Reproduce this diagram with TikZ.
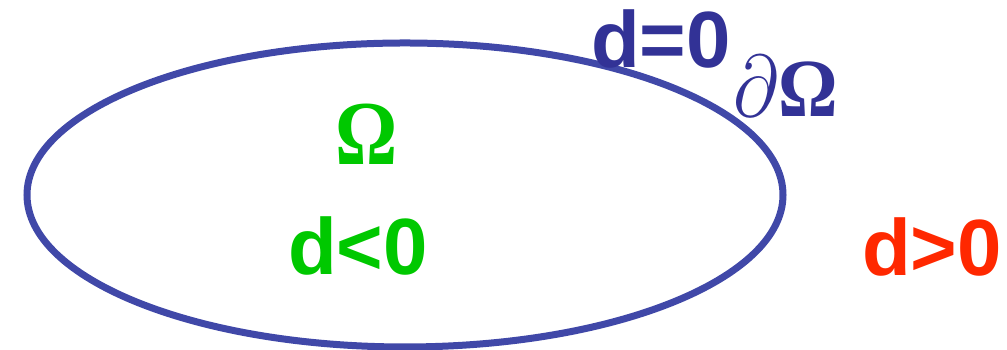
\documentclass[tikz,border=0pt]{standalone}
\usepackage{fontspec}
\setmainfont{Liberation Sans}
\newfontfamily\greekfont{Liberation Serif}
\usetikzlibrary{positioning}
\definecolor{navy}{RGB}{50,50,150}
\definecolor{rim}{RGB}{64,72,168}
\definecolor{leaf}{RGB}{0,200,0}
\definecolor{brick}{RGB}{255,40,0}
\tikzset{
  sign/.style={inner sep=0pt,anchor=base,text=#1,font=\fontsize{22.7}{26}\selectfont\bfseries},
  sign/.default=navy,
  sym/.style={inner sep=0pt,anchor=base,text=#1,font=\fontsize{23.5}{26}\selectfont},
  sym/.default=navy,
}
\begin{document}
\begin{tikzpicture}
    \useasboundingbox (0,0) rectangle (10.07,3.5);
    % domain boundary
    \draw[rim,line width=0.7mm] (4.05,1.55) ellipse (3.78 and 1.52);
    \node[sign] (zero) at (6.61,2.82) {d=0};
    \node[sym,transform shape,xscale=0.9] (bnd) at (7.86,2.33) {$\partial${\greekfont\bfseries Ω}};
    \node[sym=leaf,transform shape,xscale=0.85,font=\fontsize{26}{28}\selectfont] (dom) at (3.67,1.85) {{\greekfont\bfseries Ω}};
    \node[sign=leaf] (inside) at (3.58,0.75) {d<0};
    \node[sign=brick] (outside) at (9.32,0.74) {d>0};
  \end{tikzpicture}
\end{document}
